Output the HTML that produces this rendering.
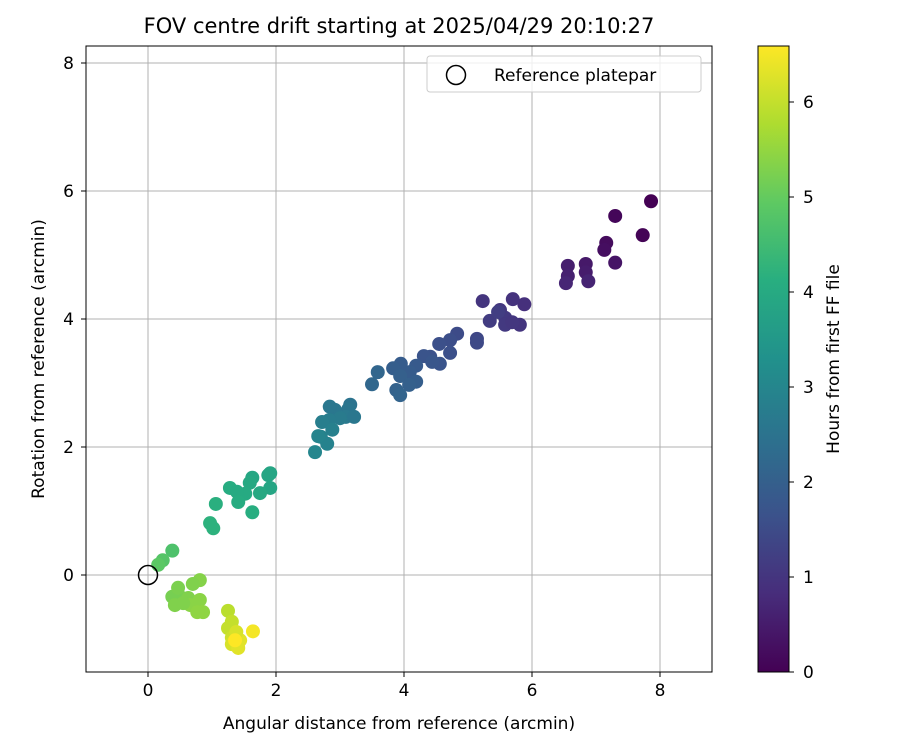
<!DOCTYPE html>
<html><head><meta charset="utf-8"><style>
body{margin:0;background:#fff;font-family:"Liberation Sans","DejaVu Sans",sans-serif;}
svg text{font-family:"DejaVu Sans","Liberation Sans",sans-serif;}
</style></head><body>
<svg id="chart" width="900" height="750" xmlns="http://www.w3.org/2000/svg">
<defs>
<linearGradient id="vir" x1="0" y1="1" x2="0" y2="0">
<stop offset="0" stop-color="#440154"/><stop offset="0.125" stop-color="#472d7b"/><stop offset="0.25" stop-color="#3b528b"/><stop offset="0.375" stop-color="#2c728e"/><stop offset="0.5" stop-color="#21918c"/><stop offset="0.625" stop-color="#28ae80"/><stop offset="0.75" stop-color="#5ec962"/><stop offset="0.875" stop-color="#addc30"/><stop offset="1" stop-color="#fde725"/>
</linearGradient>
</defs>
<text x="399" y="33" font-size="21" text-anchor="middle">FOV centre drift starting at 2025/04/29 20:10:27</text>
<g id="grid"></g>
<g id="pts"></g>
<rect x="86" y="46" width="626" height="626" fill="none" stroke="#000" stroke-width="1"/>
<g id="ticks"></g>
<text x="399" y="729" font-size="17" text-anchor="middle">Angular distance from reference (arcmin)</text>
<text transform="translate(44,359) rotate(-90)" font-size="17" text-anchor="middle">Rotation from reference (arcmin)</text>
<g>
<rect x="427" y="56" width="274" height="36" rx="3" fill="#fff" fill-opacity="0.8" stroke="#ccc"/>
<circle cx="456" cy="75" r="9.5" fill="none" stroke="#000" stroke-width="1.5"/>
<text x="494" y="81" font-size="17">Reference platepar</text>
</g>
<rect x="758" y="46" width="31" height="626" fill="url(#vir)" stroke="#000"/>
<g id="cbticks"></g>
<text transform="translate(839,359) rotate(-90)" font-size="17" text-anchor="middle">Hours from first FF file</text>
</svg>
<script>
const xs=[7.86,7.30,7.73,7.16,7.13,7.30,6.84,6.56,6.56,6.84,6.88,6.53,
5.23,5.88,5.70,5.50,5.58,5.34,5.81,5.58,5.47,5.69,
5.14,5.14,4.83,4.72,4.55,4.72,4.56,4.41,4.31,4.44,
4.19,3.95,3.83,4.09,3.94,4.19,3.88,4.08,3.94,3.59,3.50,
3.16,3.13,2.92,2.84,3.09,3.22,3.0,2.83,2.72,2.88,2.70,2.80,2.61,2.66,
1.91,1.88,1.63,1.59,1.91,1.75,1.52,1.28,1.39,1.41,1.63,1.06,0.97,1.02,
0.38,0.23,0.16,
0.50,0.38,0.63,0.81,0.70,0.47,0.42,0.66,0.81,0.86,0.77,0.55,
1.25,1.31,1.25,1.31,1.31,1.41,1.44,1.38,1.64,1.36];
const ys=[5.84,5.61,5.31,5.19,5.08,4.88,4.86,4.83,4.67,4.73,4.59,4.56,
4.28,4.23,4.31,4.14,4.02,3.97,3.91,3.91,4.11,3.95,
3.69,3.63,3.77,3.67,3.61,3.47,3.30,3.41,3.42,3.33,
3.27,3.30,3.23,3.17,3.11,3.02,2.89,2.97,2.81,3.17,2.98,
2.66,2.59,2.58,2.63,2.47,2.47,2.45,2.42,2.39,2.27,2.16,2.05,1.92,2.17,
1.59,1.56,1.52,1.44,1.36,1.28,1.27,1.36,1.30,1.14,0.98,1.11,0.81,0.73,
0.38,0.23,0.16,
-0.34,-0.34,-0.36,-0.08,-0.14,-0.20,-0.47,-0.47,-0.39,-0.58,-0.58,-0.44,
-0.56,-0.73,-0.83,-0.98,-1.08,-1.14,-1.02,-0.89,-0.88,-1.02];
const hours=[0.0,0.1,0.05,0.2,0.25,0.35,0.45,0.55,0.6,0.5,0.65,0.7,
1.0,0.9,0.95,1.05,1.1,1.15,1.0,1.1,1.2,1.05,
1.4,1.45,1.5,1.55,1.6,1.6,1.7,1.65,1.7,1.75,
1.85,1.9,1.95,1.9,2.0,1.95,2.05,2.0,2.1,2.15,2.2,
2.5,2.55,2.6,2.6,2.65,2.6,2.7,2.75,2.8,2.85,2.9,2.9,3.0,2.95,
3.85,3.85,3.9,3.95,3.85,3.95,4.0,4.05,4.0,4.05,4.1,4.15,4.2,4.2,
4.7,4.8,4.9,
5.2,5.2,5.3,5.35,5.3,5.25,5.3,5.4,5.4,5.45,5.45,5.3,
5.9,6.0,6.0,6.1,6.2,6.3,6.3,6.2,6.5,6.6];
const xTicks=[0,2,4,6,8], yTicks=[0,2,4,6,8], cTicks=[0,1,2,3,4,5,6];
const X=v=>148+v*64, Y=v=>575-v*64, C=v=>672-v*95;
const stops=[[68,1,84],[71,45,123],[59,82,139],[44,114,142],[33,145,140],[40,174,128],[94,201,98],[173,220,48],[253,231,37]];
function vir(t){t=Math.max(0,Math.min(1,t))*8;const i=Math.min(7,Math.floor(t)),f=t-i,a=stops[i],b=stops[i+1];
return 'rgb('+a.map((v,k)=>Math.round(v+(b[k]-v)*f)).join(',')+')';}
const NS='http://www.w3.org/2000/svg';
function mk(tag,at,parent){const e=document.createElementNS(NS,tag);for(const k in at)e.setAttribute(k,at[k]);parent.appendChild(e);return e;}
const grid=document.getElementById('grid'),tk=document.getElementById('ticks'),pts=document.getElementById('pts'),cb=document.getElementById('cbticks');
xTicks.forEach(v=>{
 const g=mk('line',{x1:X(v),x2:X(v),y1:46,y2:672,stroke:'#b0b0b0','stroke-width':1},grid);
 
 
 mk('line',{x1:X(v),x2:X(v),y1:672,y2:677,stroke:'#000'},tk);
 const t=mk('text',{x:X(v),y:696,'font-size':17,'text-anchor':'middle'},tk);t.textContent=v;
 
 
});
yTicks.forEach(v=>{
 const g=mk('line',{x1:86,x2:712,y1:Y(v),y2:Y(v),stroke:'#b0b0b0','stroke-width':1},grid);
 
 
 mk('line',{x1:81,x2:86,y1:Y(v),y2:Y(v),stroke:'#000'},tk);
 const t=mk('text',{x:74,y:Y(v)+6,'font-size':17,'text-anchor':'end'},tk);t.textContent=v;
 
 
});
xs.forEach((x,i)=>{
 const c=mk('circle',{cx:X(x),cy:Y(ys[i]),r:7,fill:vir(hours[i]/6.59)},pts);
 
 
});
const ref=mk('circle',{cx:X(0),cy:Y(0),r:9.5,fill:'none',stroke:'#000','stroke-width':1.5},pts);


cTicks.forEach(v=>{
 mk('line',{x1:789,x2:794,y1:C(v),y2:C(v),stroke:'#000'},cb);
 const t=mk('text',{x:803,y:C(v)+6,'font-size':17},cb);t.textContent=v;
 
 
});
</script>
</body></html>
